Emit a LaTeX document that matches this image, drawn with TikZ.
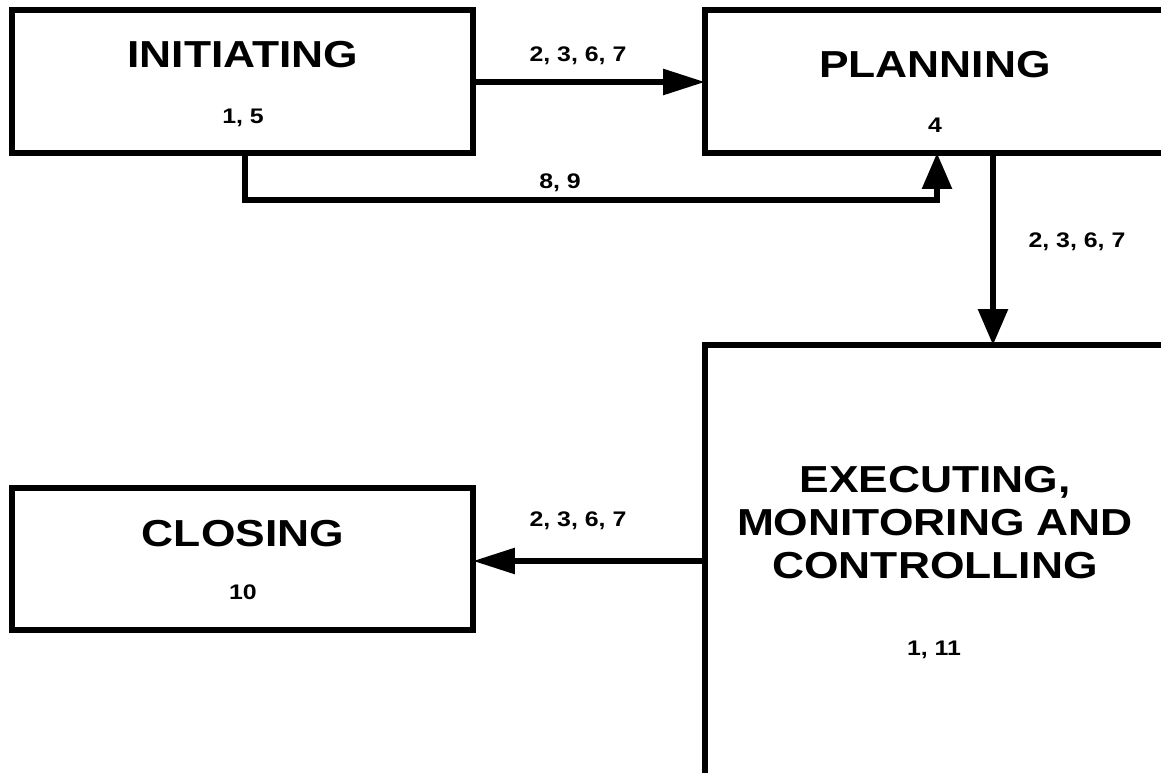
\documentclass[tikz,border=0pt]{standalone}
\usepackage{fontspec}
\setmainfont{Liberation Sans}
\usepackage{graphicx}
\usetikzlibrary{arrows.meta}

% wide bold lettering for titles and flow labels
\newcommand{\wide}[1]{\scalebox{1.18}[1]{#1}}
\newcommand{\phasename}[1]{\wide{\fontsize{21.4}{25}\selectfont\bfseries #1}}
\newcommand{\flowno}[1]{\wide{\fontsize{12}{14}\selectfont\bfseries #1}}

\tikzset{
  phase/.style={draw, line width=3.3pt, rectangle, inner sep=0pt, outer sep=0pt},
  hflow/.style={line width=3.3pt, -{Triangle[length=8.4mm,width=5mm]}},
  vflow/.style={line width=3.3pt, -{Triangle[length=7.2mm,width=5.8mm]}},
  tag/.style={anchor=base, inner sep=0pt}
}

\begin{document}
\begin{tikzpicture}[x=0.02cm, y=-0.02cm]
        \useasboundingbox (0,0) rectangle (1161,773);
        \clip (0,0) rectangle (1161,773);

        % Phase boxes
        \node[phase, minimum width=9.22cm, minimum height=2.86cm] (init) at (242.5,81.5) {};
        \node[phase, minimum width=9.2cm, minimum height=2.86cm] (plan) at (935,81.5) {};
        \node[phase, minimum width=9.2cm, minimum height=8.8cm] (exec) at (935,565) {};
        \node[phase, minimum width=9.22cm, minimum height=2.84cm] (close) at (242.5,559) {};

        % Titles and step numbers
        \node[tag] (initname) at (243,68) {\phasename{INITIATING}};
        \node[tag] (initno) at (243,124) {\flowno{1, 5}};
        \node[tag] (planname) at (935,78) {\phasename{PLANNING}};
        \node[tag] (planno) at (935,133) {\flowno{4}};
        \node[tag] (execname) at (935,493) {\wide{\fontsize{21.4}{25}\selectfont\bfseries
            \begin{tabular}[t]{@{}c@{}}EXECUTING,\\[-0.6pt]MONITORING AND\\[-0.6pt]CONTROLLING\end{tabular}}};
        \node[tag] (execno) at (934,656) {\flowno{1, 11}};
        \node[tag] (closename) at (243,547) {\phasename{CLOSING}};
        \node[tag] (closeno) at (243,600) {\flowno{10}};

        % Flows between phases
        \coordinate (ia) at (init.east |- 0,82);
        \coordinate (pa) at (plan.west |- 0,82);
        \draw[hflow] (ia) -- (pa);
        \node[tag] (lab1) at (578,62) {\flowno{2, 3, 6, 7}};

        \coordinate (ib) at (init.south -| 245,0);
        \coordinate (pb) at (plan.south -| 937,0);
        \draw[vflow] (ib) -- (245,200) -- (937,200) -- (pb);
        \node[tag] (lab2) at (560,189) {\flowno{8, 9}};

        \coordinate (pc) at (plan.south -| 993,0);
        \coordinate (ec) at (exec.north -| 993,0);
        \draw[vflow] (pc) -- (ec);
        \node[tag] (lab3) at (1077,248) {\flowno{2, 3, 6, 7}};

        \coordinate (ed) at (exec.west |- 0,561);
        \coordinate (cd) at (close.east |- 0,561);
        \draw[hflow] (ed) -- (cd);
        \node[tag] (lab4) at (578,527) {\flowno{2, 3, 6, 7}};
\end{tikzpicture}
\end{document}
